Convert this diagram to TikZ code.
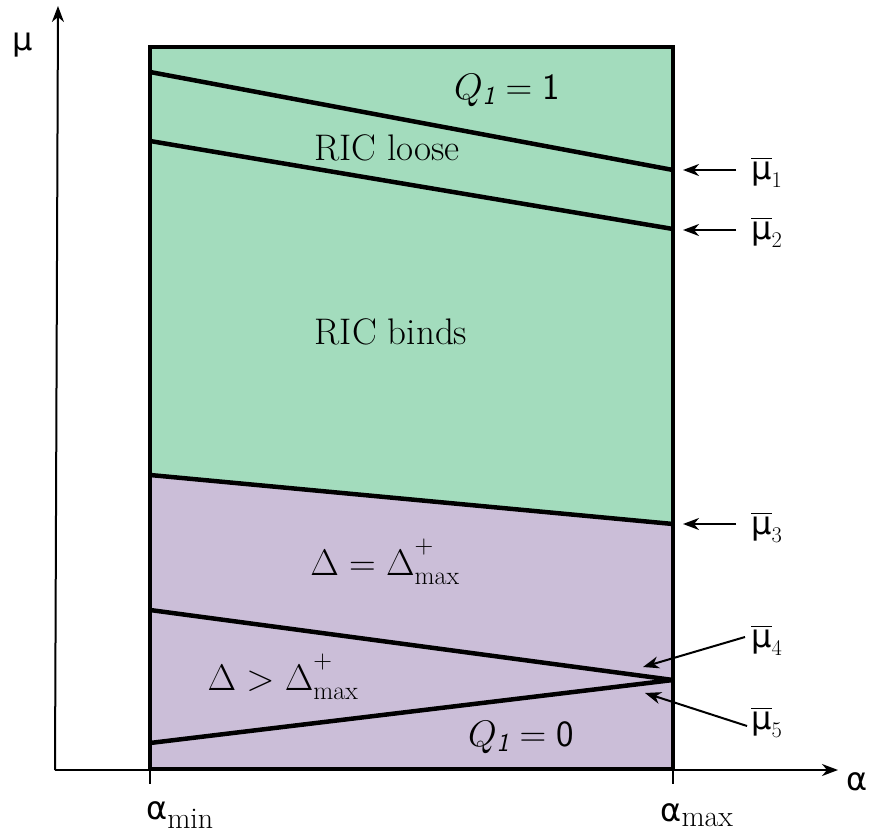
\documentclass[tikz,border=0pt]{standalone}
\usepackage{fix-cm}
\usepackage{amsmath}
\usepackage{fontspec}
\newfontfamily\grk{DejaVu Sans}
\usetikzlibrary{arrows.meta}
\definecolor{grn}{RGB}{163,220,189}
\definecolor{prp}{RGB}{203,190,216}
\newcommand{\mubar}[1]{$\overline{\text{\grk μ}}_{#1}$}
\newcommand{\gal}{\text{\grk α}}
\begin{document}
\begin{tikzpicture}[x=1pt,y=-1pt,
  bord/.style={line width=4.5pt},
  lbl/.style={font=\fontsize{32}{36}\selectfont, inner sep=0pt},
  big/.style={font=\fontsize{37}{40}\selectfont, inner sep=0pt},
  ptr/.style={-{Stealth[length=16pt,width=12pt,inset=5pt]}, line width=2pt},
  axis/.style={-{Stealth[length=16pt,width=12pt,inset=5pt]}, line width=2pt}]
\useasboundingbox (0,0) rectangle (873,834);
% corners and break points
\coordinate (TL) at (150,47);
\coordinate (TR) at (673,47);
\coordinate (BL) at (150,769);
\coordinate (BR) at (673,769);
\coordinate (a1) at (150,72);
\coordinate (b1) at (673,170);
\coordinate (a2) at (150,141);
\coordinate (b2) at (673,229);
\coordinate (a3) at (150,475);
\coordinate (b3) at (673,524);
\coordinate (a4) at (150,610);
\coordinate (p)  at (673,680);
\coordinate (a5) at (150,743);
% fills
\fill[grn] (TL) -- (TR) -- (b3) -- (a3) -- cycle;
\fill[prp] (a3) -- (b3) -- (BR) -- (BL) -- cycle;
% axes
\coordinate (O) at (55,770);
\coordinate (Y) at (58,6);
\coordinate (X) at (838,770);
\draw[axis] (O) -- (Y);
\draw[axis] (O) -- (X);
\coordinate (t1) at (150,784);
\coordinate (t2) at (673,784);
\draw[line width=2pt] (BL) -- (t1);
\draw[line width=2pt] (BR) -- (t2);
% region lines
\draw[bord] (a1) -- (b1);
\draw[bord] (a2) -- (b2);
\draw[bord] (a3) -- (b3);
\draw[bord] (a4) -- (p);
\draw[bord] (a5) -- (p);
\draw[bord] (TL) rectangle (BR);
% axis labels
\node[lbl] (mu) at (23,45) {\grk μ};
\node[lbl] (al) at (857,782) {\grk α};
\node[lbl] (amin) at (180,815) {$\gal_{\text{\fontsize{30}{30}\selectfont min}}$};
\node[lbl] (amax) at (697,815) {$\gal_{\text{\fontsize{30}{30}\selectfont max}}$};
% region labels
\node[big] (q1) at (507,90) {$Q_{\textsf{\itshape 1}} = \textsf{1}$};
\node[big] (loose) at (387,148) {RIC loose};
\node[big] (binds) at (391,332) {RIC binds};
\node[big] (deq) at (385,562) {$\Delta = \Delta^{\raisebox{9pt}{$\scriptstyle +$}}_{\max}$};
\node[big] (dgt) at (283,677) {$\Delta > \Delta^{\raisebox{9pt}{$\scriptstyle +$}}_{\max}$};
\node[big] (q0) at (521,737) {$Q_{\textsf{\itshape 1}} = \textsf{0}$};
% pointer labels
\node[lbl, anchor=west] (m1) at (751,172) {\mubar{1}};
\node[lbl, anchor=west] (m2) at (751,232) {\mubar{2}};
\node[lbl, anchor=west] (m3) at (751,527) {\mubar{3}};
\node[lbl, anchor=west] (m4) at (751,640) {\mubar{4}};
\node[lbl, anchor=west] (m5) at (751,722) {\mubar{5}};
\coordinate (e1) at (683,170);
\coordinate (e2) at (683,230);
\coordinate (e3) at (683,524);
\coordinate (e4) at (643,667);
\coordinate (e5) at (645,693);
\coordinate (s1) at (736,170);
\coordinate (s2) at (736,230);
\coordinate (s3) at (736,524);
\coordinate (s4) at (745,637);
\coordinate (s5) at (747,726);
\draw[ptr] (s1) -- (e1);
\draw[ptr] (s2) -- (e2);
\draw[ptr] (s3) -- (e3);
\draw[ptr] (s4) -- (e4);
\draw[ptr] (s5) -- (e5);
\end{tikzpicture}
\end{document}
